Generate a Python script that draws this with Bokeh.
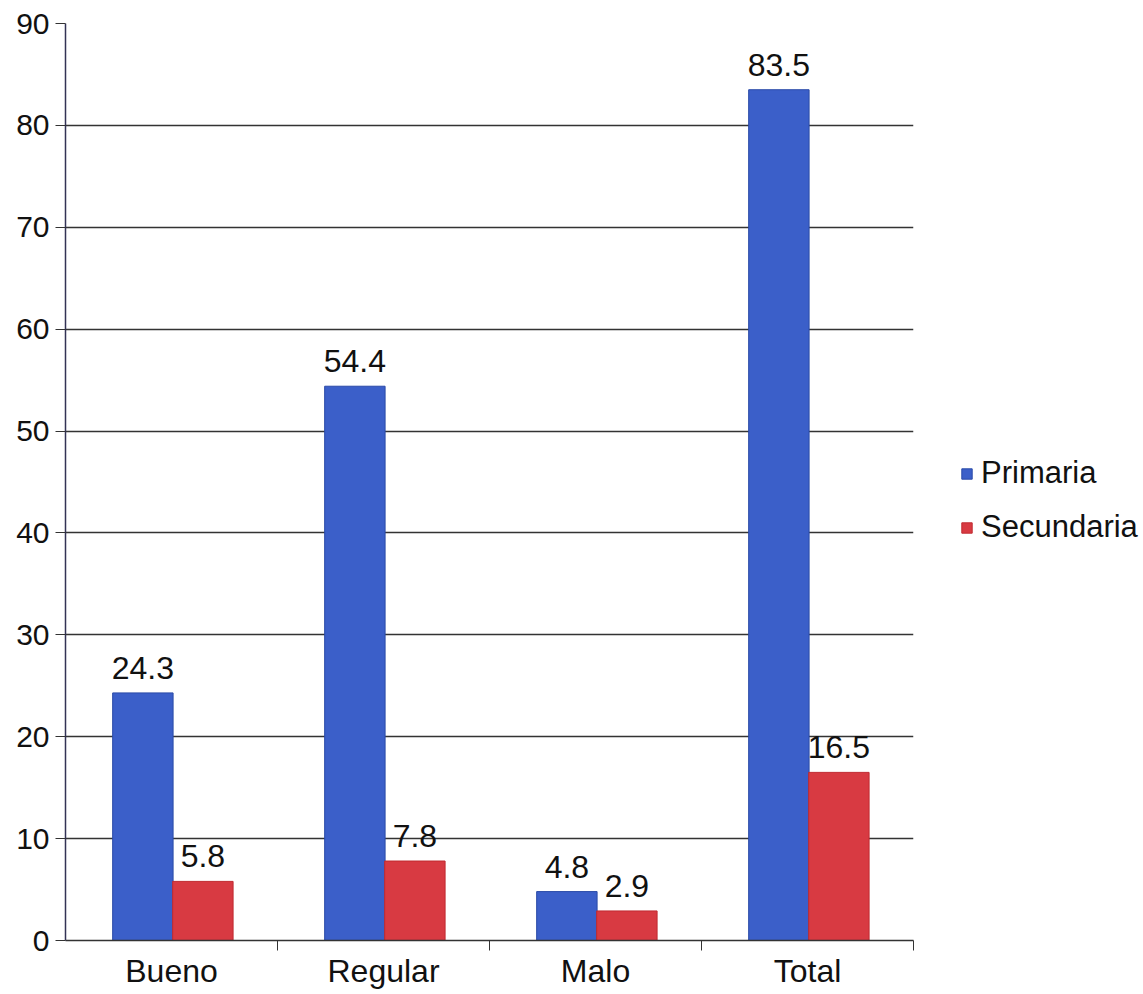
from bokeh.plotting import figure
from bokeh.models import ColumnDataSource, FixedTicker, Range1d, Legend, LegendItem, LabelSet
from bokeh.core.properties import value
from bokeh.embed import file_html
from bokeh.resources import INLINE

categories = ["Bueno", "Regular", "Malo", "Total"]
primaria = [24.3, 54.4, 4.8, 83.5]
secundaria = [5.8, 7.8, 2.9, 16.5]
y_ticks = [0, 10, 20, 30, 40, 50, 60, 70, 80, 90]

FONT = "Liberation Sans"
BLUE = "#3b5fc9"
RED = "#d83a42"

idx = list(range(len(categories)))
src_p = ColumnDataSource(dict(x=[i + 0.365 for i in idx], top=primaria,
                              lbl=[f"{v:.1f}" for v in primaria]))
src_s = ColumnDataSource(dict(x=[i + 0.648 for i in idx], top=secundaria,
                              lbl=[f"{v:.1f}" for v in secundaria]))

p = figure(frame_width=848, frame_height=917, output_backend="svg", toolbar_location=None,
           x_range=Range1d(0, 4), y_range=Range1d(0, 90),
           min_border_left=65, min_border_right=5, min_border_top=23, min_border_bottom=45)
p.outline_line_color = None
p.background_fill_color = "white"
p.border_fill_color = "white"

rp = p.vbar(x="x", top="top", width=0.285, source=src_p, fill_color=BLUE, line_color="#2a4aa8", line_width=1)
rs = p.vbar(x="x", top="top", width=0.285, source=src_s, fill_color=RED, line_color="#c02a30", line_width=1)

for src in (src_p, src_s):
    p.add_layout(LabelSet(x="x", y="top", text="lbl", source=src, text_align="center",
                          text_baseline="bottom", y_offset=14, text_font=value(FONT),
                          text_font_size="32px", text_color="#111111"))

# y axis
p.yaxis.ticker = FixedTicker(ticks=y_ticks)
p.yaxis.major_label_text_font = FONT
p.yaxis.major_label_text_font_size = "30px"
p.yaxis.major_label_text_color = "#111111"
p.yaxis.axis_line_color = "#333355"
p.yaxis.axis_line_width = 1.5
p.yaxis.major_tick_line_color = "#333333"
p.yaxis.major_tick_out = 10
p.yaxis.major_tick_in = 0
p.yaxis.minor_tick_line_color = None
p.yaxis.major_label_standoff = 6

# x axis
p.xaxis.ticker = FixedTicker(ticks=[i + 0.5 for i in idx], minor_ticks=[1, 2, 3, 4])
p.xaxis.major_label_overrides = {i + 0.5: c for i, c in zip(idx, categories)}
p.xaxis.major_label_text_font = FONT
p.xaxis.major_label_text_font_size = "32px"
p.xaxis.major_label_text_color = "#111111"
p.xaxis.axis_line_color = "#333333"
p.xaxis.axis_line_width = 1.5
p.xaxis.major_tick_line_color = None
p.xaxis.minor_tick_line_color = "#333333"
p.xaxis.minor_tick_out = 10
p.xaxis.minor_tick_in = 0
p.xaxis.major_label_standoff = 2

p.xgrid.grid_line_color = None
p.ygrid.grid_line_color = "#333333"
p.ygrid.grid_line_width = 1.3

legend = Legend(items=[LegendItem(label="Primaria", renderers=[rp]),
                       LegendItem(label="Secundaria", renderers=[rs])],
                location=(47, 395), border_line_color=None, background_fill_alpha=0,
                label_text_font=FONT, label_text_font_size="31px", label_text_color="#111111",
                glyph_width=13, glyph_height=13, spacing=18, label_standoff=8, padding=0, margin=0)
p.add_layout(legend, "right")

open("out.html", "w").write(file_html(p, INLINE))
